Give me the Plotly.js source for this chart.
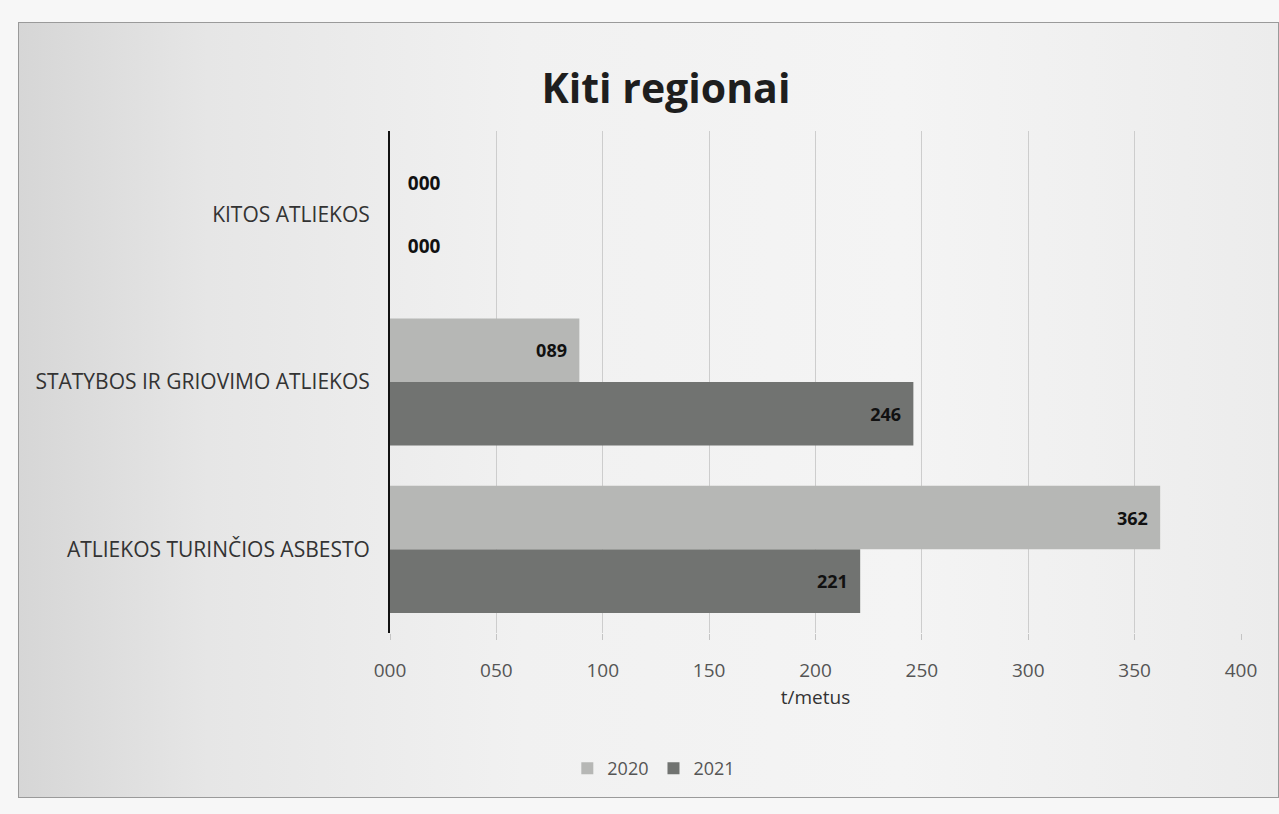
<!DOCTYPE html>
<html>
<head>
<meta charset="utf-8">
<script src="https://cdn.plot.ly/plotly-3.0.1.min.js"></script>
<style>
  html, body { margin: 0; padding: 0; background: #f7f7f7; width: 1279px; height: 814px; overflow: hidden; }
  #chart { position: absolute; left: 18px; top: 22px; width: 1261px; height: 776px; border: 1px solid #9a9a9a; box-sizing: border-box;
           background: linear-gradient(to right, #d6d6d6 0%, #e6e6e6 15%, #f1f1f1 40%, #f4f4f4 70%, #ececec 100%); }
</style>
</head>
<body>
<div id="chart"></div>
<script>
const categories = ['ATLIEKOS TURINČIOS ASBESTO', 'STATYBOS IR GRIOVIMO ATLIEKOS', 'KITOS ATLIEKOS'];
const values2020 = [362, 89, 0];
const values2021 = [221, 246, 0];
const seriesNames = ['2020', '2021'];
const xTicks = [0, 50, 100, 150, 200, 250, 300, 350, 400];

const FONT = '"Open Sans", Lato, sans-serif';
const pos = v => v.map(x => x > 0 ? 'inside' : 'outside');
const tmpl = v => v.map(x => x > 0 ? '%{x:03d}\u00a0\u00a0' : '\u00a0\u00a0\u00a0%{x:03d}');

const common = {
  type: 'bar', orientation: 'h', y: categories,
  insidetextanchor: 'end',
  textfont: { family: FONT, size: 18, color: '#111', weight: 'bold' },
  outsidetextfont: { family: FONT, size: 19, color: '#111', weight: 'bold' },
  cliponaxis: false,
  hoverinfo: 'x+name'
};

const traces = [
  Object.assign({}, common, { name: seriesNames[1], x: values2021, texttemplate: tmpl(values2021), textposition: pos(values2021), marker: { color: '#717371' } }),
  Object.assign({}, common, { name: seriesNames[0], x: values2020, texttemplate: tmpl(values2020), textposition: pos(values2020), marker: { color: '#b6b7b5' } })
];

const layout = {
  width: 1261, height: 776,
  margin: { l: 371, r: 39, t: 108, b: 158 },
  paper_bgcolor: 'rgba(0,0,0,0)',
  plot_bgcolor: 'rgba(0,0,0,0)',
  font: { family: FONT, color: '#444', size: 19 },
  title: { text: '<b>Kiti regionai</b>', font: { size: 41, color: '#1e1e1e', family: FONT },
           x: 647 / 1261, xref: 'container', xanchor: 'center', y: 1 - 66 / 776, yref: 'container', yanchor: 'middle' },
  barmode: 'group', bargap: 0.24, bargroupgap: 0,
  xaxis: {
    range: [0, 400], tickvals: xTicks, tickformat: '03d',
    showgrid: true, gridcolor: '#cdcdcd', gridwidth: 1, zeroline: false,
    ticks: 'outside', ticklen: 6, tickcolor: '#c4c4c4', ticklabelstandoff: 14,
    tickfont: { size: 19, color: '#555' },
    title: { text: 't/metus', font: { size: 19, color: '#333' }, standoff: 8 },
    fixedrange: true
  },
  yaxis: {
    showline: true, linecolor: '#111', linewidth: 2,
    showgrid: false, ticks: '', ticklabelstandoff: 14,
    tickfont: { size: 21, color: '#333' },
    fixedrange: true
  },
  legend: {
    orientation: 'h', traceorder: 'reversed',
    x: 0.31, xanchor: 'center', y: -0.27, yanchor: 'middle',
    font: { size: 18, color: '#555' }, bgcolor: 'rgba(0,0,0,0)'
  },
  showlegend: true
};

Plotly.newPlot('chart', traces, layout, { displayModeBar: false, staticPlot: true });
</script>
</body>
</html>
